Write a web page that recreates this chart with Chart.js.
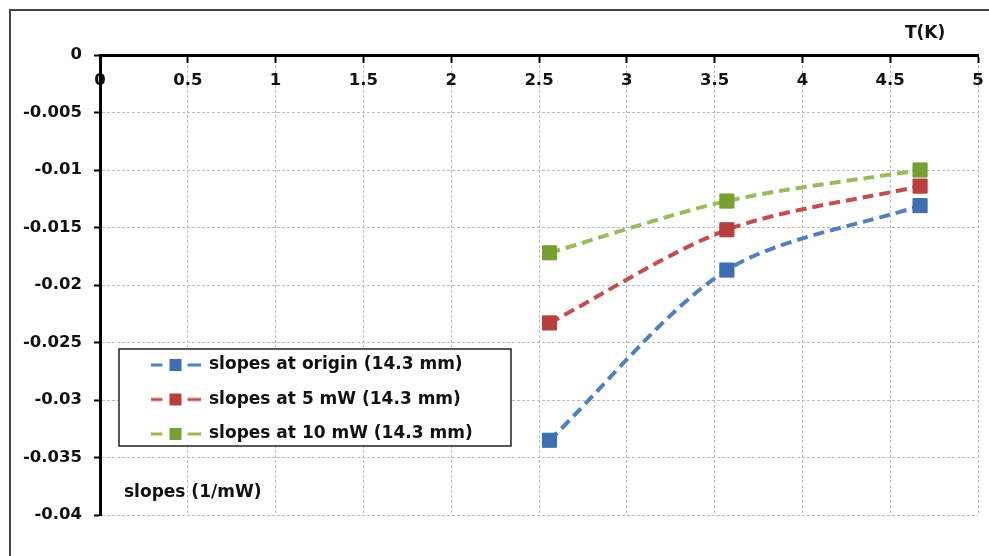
<!DOCTYPE html>
<html>
<head>
<meta charset="utf-8">
<script src="https://cdn.jsdelivr.net/npm/chart.js@4"></script>
<style>
html,body{margin:0;padding:0;background:#fff;}
canvas{display:block;}
</style>
</head>
<body>
<canvas id="c" width="989" height="556"></canvas>
<script>
// ---- data ----
const temperatures = [2.56, 3.57, 4.67];
const slopesOrigin = [-0.0335, -0.0187, -0.0131];
const slopes5mW   = [-0.0233, -0.0152, -0.0114];
const slopes10mW  = [-0.0172, -0.0127, -0.0100];
const seriesLabels = ['slopes at origin (14.3 mm)', 'slopes at 5 mW (14.3 mm)', 'slopes at 10 mW (14.3 mm)'];
const xTickValues = [0, 0.5, 1, 1.5, 2, 2.5, 3, 3.5, 4, 4.5, 5];
const yTickValues = [0, -0.005, -0.01, -0.015, -0.02, -0.025, -0.03, -0.035, -0.04];
const xTitle = 'T(K)';
const yTitle = 'slopes (1/mW)';

const seriesValues = [slopesOrigin, slopes5mW, slopes10mW];
const lineColors = ['#4f81bd', '#c0504d', '#9bbb59'];
const markerColors = ['#3d6fb0', '#b8403c', '#77a033'];
const FONT = "'DejaVu Sans', sans-serif";

function makeIcon(lineColor, markColor) {
  const c = document.createElement('canvas');
  c.width = 50; c.height = 14;
  const g = c.getContext('2d');
  g.strokeStyle = lineColor; g.lineWidth = 3;
  g.beginPath(); g.moveTo(0, 7); g.lineTo(12, 7); g.moveTo(37, 7); g.lineTo(50, 7); g.stroke();
  g.fillStyle = markColor; g.fillRect(19, 1, 12, 12);
  return c;
}
const icons = lineColors.map((c, i) => makeIcon(c, markerColors[i]));

const fmt = v => Number(Number(v).toFixed(3)).toString().replace(/^-0$/, '0');

const framePlugin = {
  id: 'frame',
  beforeDraw(chart) {
    const ctx = chart.ctx;
    ctx.save();
    ctx.fillStyle = '#fff';
    ctx.fillRect(0, 0, chart.width, chart.height);
    ctx.strokeStyle = '#444';
    ctx.lineWidth = 2;
    ctx.beginPath();
    ctx.moveTo(10, chart.height + 2); ctx.lineTo(10, 10); ctx.lineTo(chart.width + 2, 10);
    ctx.stroke();
    ctx.restore();
  },
  afterLayout(chart) {
    const lg = chart.legend;
    if (!lg) return;
    lg.left = 133; lg.top = 339; lg.right = 520; lg.bottom = 515;
    lg.width = lg.right - lg.left; lg.height = lg.bottom - lg.top;
  },
  afterDraw(chart) {
    const ctx = chart.ctx;
    ctx.save();
    ctx.fillStyle = '#fff';
    ctx.fillRect(119, 349, 392, 97);
    ctx.strokeStyle = '#222';
    ctx.lineWidth = 1.5;
    ctx.strokeRect(119, 349, 392, 97);
    ctx.restore();
    chart.legend.draw();
    ctx.save();
    ctx.fillStyle = '#111';
    ctx.font = 'bold 17px ' + FONT;
    ctx.textAlign = 'left';
    ctx.textBaseline = 'middle';
    ctx.fillText(xTitle, 905, 34);
    ctx.fillText(yTitle, 124, 493);
    ctx.restore();
  }
};

new Chart(document.getElementById('c'), {
  type: 'line',
  data: {
    datasets: seriesValues.map((vals, i) => ({
      label: seriesLabels[i],
      data: temperatures.map((t, j) => ({ x: t, y: vals[j] })),
      borderColor: lineColors[i],
      backgroundColor: markerColors[i],
      borderWidth: 4,
      borderDash: [11, 6],
      pointStyle: 'rect',
      pointRadius: 10,
      pointBorderWidth: 1,
      pointBackgroundColor: markerColors[i],
      pointBorderColor: markerColors[i],
      tension: 0.3,
      fill: false
    }))
  },
  options: {
    responsive: false,
    animation: false,
    devicePixelRatio: 1,
    layout: { padding: { left: 10, top: 55, right: 7, bottom: 41 } },
    scales: {
      x: {
        type: 'linear',
        min: Math.min(...xTickValues),
        max: Math.max(...xTickValues),
        position: { y: 0 },
        afterFit(s) { s.height = 0; s.paddingLeft = 0; s.paddingRight = 0; s.paddingTop = 0; s.paddingBottom = 0; },
        ticks: {
          stepSize: xTickValues[1] - xTickValues[0],
          padding: 10, autoSkip: false, maxRotation: 0,
          color: '#111',
          font: { family: FONT, size: 16.5, weight: 'bold' },
          callback: v => fmt(v)
        },
        grid: { color: '#bdbdbd', lineWidth: 1, tickLength: 6, tickColor: '#000', tickWidth: 2, tickBorderDash: [] },
        border: { display: true, color: '#000', width: 3, dash: [3, 2] }
      },
      y: {
        type: 'linear',
        min: Math.min(...yTickValues),
        max: Math.max(...yTickValues),
        position: 'left',
        afterFit(s) { s.width = 90; s.paddingTop = 0; s.paddingBottom = 0; s.paddingLeft = 0; s.paddingRight = 0; },
        ticks: {
          stepSize: yTickValues[0] - yTickValues[1],
          padding: 12, autoSkip: false,
          color: '#111',
          font: { family: FONT, size: 16.5, weight: 'bold' },
          callback: v => fmt(v)
        },
        grid: { color: '#bdbdbd', lineWidth: 1, tickLength: 6, tickColor: '#000', tickWidth: 2, tickBorderDash: [] },
        border: { display: true, color: '#000', width: 3, dash: [3, 2] }
      }
    },
    plugins: {
      tooltip: { enabled: false },
      legend: {
        position: 'chartArea',
        align: 'start',
        labels: {
          usePointStyle: true,
          pointStyleWidth: 50,
          padding: 17.5,
          color: '#111',
          font: { family: FONT, size: 17, weight: 'bold' },
          generateLabels(chart) {
            const items = Chart.defaults.plugins.legend.labels.generateLabels(chart);
            items.forEach((it, i) => { it.pointStyle = icons[i]; it.fontColor = '#111'; });
            return items;
          }
        }
      }
    }
  },
  plugins: [framePlugin]
});
</script>
</body>
</html>
